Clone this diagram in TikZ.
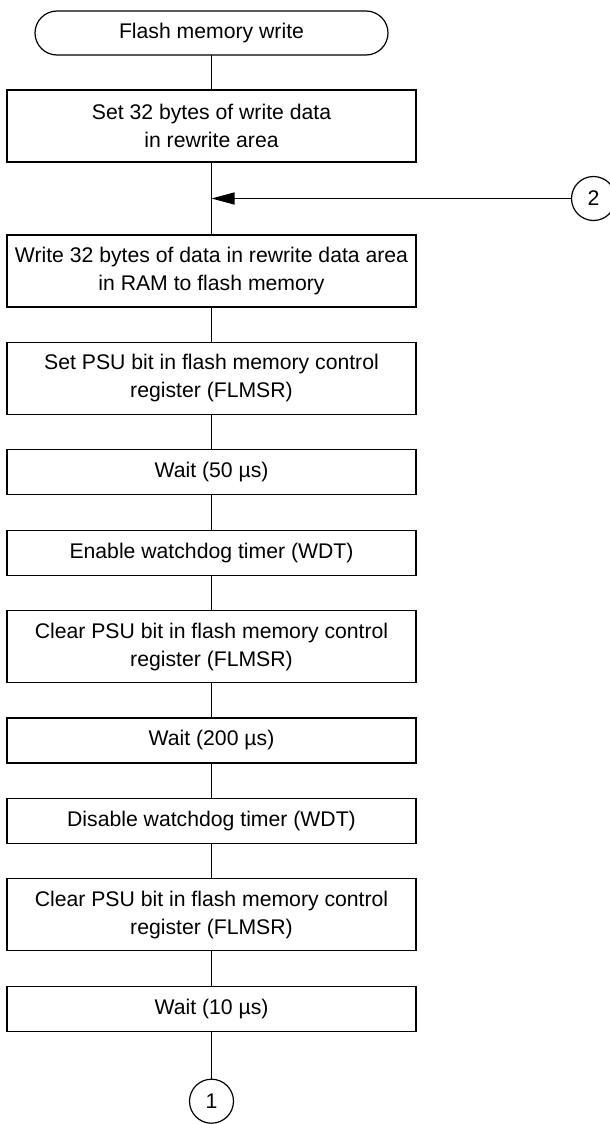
\documentclass[tikz,border=0pt]{standalone}
\usepackage{fontspec}
\setmainfont{Liberation Sans}
\usetikzlibrary{positioning,arrows.meta,calc}

\begin{document}
\begin{tikzpicture}[
  node distance=17.7pt,
  font=\fontsize{10.6}{14}\selectfont,
  term/.style={draw, line width=0.6pt, outer sep=0pt, rounded corners=11pt,
               minimum width=176.5pt, minimum height=22pt, inner sep=2pt},
  proc/.style={draw, line width=0.6pt, outer sep=0pt, minimum width=204.5pt,
               minimum height=22.5pt, align=center, inner sep=2pt},
  proctwo/.style={proc, minimum height=36pt},
  conn/.style={draw, circle, line width=0.6pt, outer sep=0pt, minimum size=22pt, inner sep=0pt},
  line/.style={line width=0.6pt},
  flow/.style={line width=0.6pt, -{Triangle[length=11.5pt, width=6pt]}}
]
\useasboundingbox (0,0) rectangle (305pt,-562pt);

\node[term] (start) at (105.75pt,-16.5pt) {Flash memory write};
\node[proctwo, below=17.5pt of start] (setdata)  {Set 32 bytes of write data\\in rewrite area};
\node[proctwo, below=36.5pt of setdata] (writeram) {Write 32 bytes of data in rewrite data area\\in RAM to flash memory};
\node[proctwo, below=of writeram] (setpsu)  {Set PSU bit in flash memory control\\register (FLMSR)};
\node[proc,    below=of setpsu]   (wait50)  {Wait (50 µs)};
\node[proc,    below=of wait50]   (wdton)   {Enable watchdog timer (WDT)};
\node[proctwo, below=of wdton]    (clrpsu)  {Clear PSU bit in flash memory control\\register (FLMSR)};
\node[proc,    below=of clrpsu]   (wait200) {Wait (200 µs)};
\node[proc,    below=of wait200]  (wdtoff)  {Disable watchdog timer (WDT)};
\node[proctwo, below=of wdtoff]   (clrpsub) {Clear PSU bit in flash memory control\\register (FLMSR)};
\node[proc,    below=of clrpsub]  (wait10)  {Wait (10 µs)};
\node[conn,    below=24pt of wait10] (conn1) {1};

\coordinate (join) at ($(setdata.south)!0.5!(writeram.north)$);
\node[conn, right=180pt of join] (conn2) {2};

\draw[line] (start)    -- (setdata);
\draw[line] (setdata)  -- (writeram);
\draw[line] (writeram) -- (setpsu);
\draw[line] (setpsu)   -- (wait50);
\draw[line] (wait50)   -- (wdton);
\draw[line] (wdton)    -- (clrpsu);
\draw[line] (clrpsu)   -- (wait200);
\draw[line] (wait200)  -- (wdtoff);
\draw[line] (wdtoff)   -- (clrpsub);
\draw[line] (clrpsub)  -- (wait10);
\draw[line] (wait10)   -- (conn1);
\draw[flow] (conn2)    -- (join);
\end{tikzpicture}
\end{document}
